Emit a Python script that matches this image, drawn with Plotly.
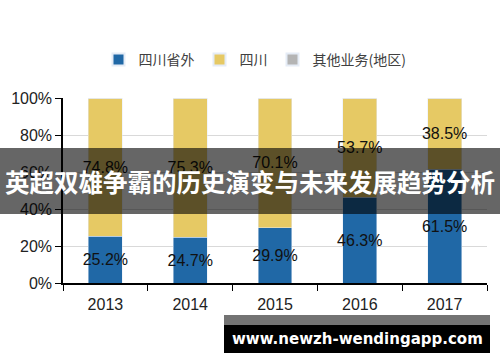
import plotly.graph_objects as go

years = ["2013", "2014", "2015", "2016", "2017"]
outside_sichuan = [25.2, 24.7, 29.9, 46.3, 61.5]
sichuan = [74.8, 75.3, 70.1, 53.7, 38.5]
other = [0, 0, 0, 0, 0]
series_names = ["四川省外", "四川", "其他业务(地区)"]
banner_text = "英超双雄争霸的历史演变与未来发展趋势分析"
watermark_text = "www.newzh-wendingapp.com"

W, H = 500, 362
L, R, T, B = 63, 13, 98, 79
pw, ph = W - L - R, H - T - B


def px(x):
    return (x - L) / pw


def py(y):
    return (H - B - y) / ph


label_font = dict(color="#111111", size=16, family="Liberation Sans")

fig = go.Figure()
fig.add_trace(go.Bar(
    x=years, y=[v / 100 for v in outside_sichuan], name=series_names[0],
    marker_color="#2068a6", text=[f"{v:.1f}%" for v in outside_sichuan],
    textposition="inside", insidetextanchor="middle", textangle=0,
    textfont=label_font, constraintext="none", cliponaxis=False,
))
fig.add_trace(go.Bar(
    x=years, y=[v / 100 for v in sichuan], name=series_names[1],
    marker_color="#e6c964", text=[f"{v:.1f}%" for v in sichuan],
    textposition="inside", insidetextanchor="middle", textangle=0,
    textfont=label_font, constraintext="none", cliponaxis=False,
))
fig.add_trace(go.Bar(
    x=years, y=other, name=series_names[2], marker_color="#b4b4b4",
))

fig.update_layout(
    width=W, height=H, barmode="stack", bargap=0.6,
    margin=dict(l=L, r=R, t=T, b=B, autoexpand=False),
    paper_bgcolor="white", plot_bgcolor="white",
    font=dict(family="Liberation Sans, Arial", color="#222222"),
    uniformtext=dict(minsize=16, mode="show"),
    legend=dict(orientation="h", x=0.51, y=1 - 60 / H, xref="container", yref="container",
                xanchor="center", yanchor="middle", traceorder="normal",
                font=dict(family="Noto Sans CJK SC", size=14, color="#404040"),
                itemwidth=30, itemsizing="constant"),
    xaxis=dict(showline=True, linecolor="black", linewidth=1.5, ticks="outside",
               tickson="boundaries", ticklen=6, tickcolor="black", automargin=False,
               ticklabelstandoff=6,
               tickfont=dict(size=16, color="#222222"), fixedrange=True),
    yaxis=dict(range=[0, 1], dtick=0.2, tickformat=".0%", showline=True, linecolor="black",
               linewidth=1.5, ticks="outside", ticklen=6, tickcolor="black", automargin=False,
               showgrid=True, gridcolor="#d9d9d9", gridwidth=1,
               tickfont=dict(size=16, color="#222222"), zeroline=False),
    shapes=[
        dict(type="rect", xref="paper", yref="paper", layer="above",
             x0=px(0), x1=px(500), y0=py(214), y1=py(148),
             fillcolor="rgba(0,0,0,0.6)", line=dict(width=0)),
        dict(type="rect", xref="paper", yref="paper", layer="above",
             x0=px(224), x1=px(490), y0=py(325), y1=py(315),
             fillcolor="rgba(0,0,0,0.55)", line=dict(width=0)),
        dict(type="rect", xref="paper", yref="paper", layer="above",
             x0=px(224), x1=px(490), y0=py(353), y1=py(325),
             fillcolor="black", line=dict(width=0)),
    ],
    annotations=[
        dict(text=f"<b>{banner_text}</b>", xref="paper", yref="paper",
             x=px(250), y=py(181), showarrow=False, xanchor="center", yanchor="middle",
             font=dict(family="Noto Sans CJK SC", size=24.5, color="white")),
        dict(text=f"<b>{watermark_text}</b>", xref="paper", yref="paper",
             x=px(357), y=py(339), showarrow=False, xanchor="center", yanchor="middle",
             font=dict(family="DejaVu Sans", size=15, color="white")),
    ],
)

fig.write_html("out.html", config={"displayModeBar": False},
               post_script="document.body.style.margin='0';")
